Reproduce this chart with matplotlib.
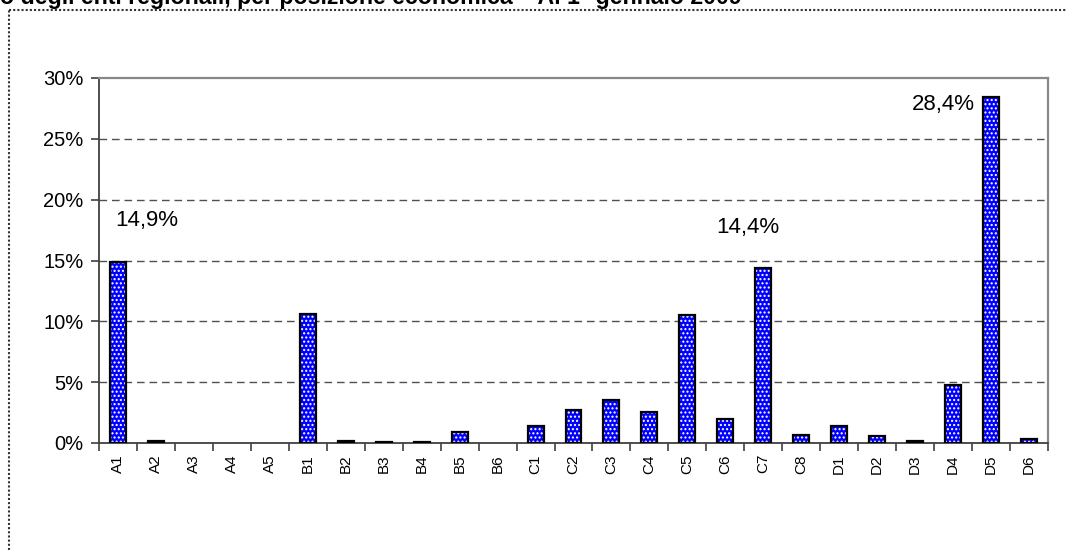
import matplotlib
matplotlib.use("Agg")
import matplotlib.pyplot as plt
from matplotlib.lines import Line2D
from matplotlib.ticker import FixedLocator, FuncFormatter

plt.rcParams['font.family'] = ['Liberation Sans', 'DejaVu Sans']
plt.rcParams['hatch.linewidth'] = 1.0

categories = ["A1", "A2", "A3", "A4", "A5",
              "B1", "B2", "B3", "B4", "B5", "B6",
              "C1", "C2", "C3", "C4", "C5", "C6", "C7", "C8",
              "D1", "D2", "D3", "D4", "D5", "D6"]
values = [14.9, 0.2, 0.0, 0.0, 0.0,
          10.6, 0.2, 0.1, 0.05, 0.9, 0.0,
          1.4, 2.75, 3.5, 2.55, 10.5, 1.95, 14.4, 0.65,
          1.4, 0.6, 0.15, 4.8, 28.4, 0.3]
yticks = [0, 5, 10, 15, 20, 25, 30]
labelled = {0: "14,9%", 17: "14,4%", 23: "28,4%"}
label_pos = {0: (-0.08, 18.3), 17: (15.77, 17.7), 23: (20.91, 27.8)}
title = "o degli enti regionali, per posizione economica \u2013 Al 1\u00b0 gennaio 2009"

W, H = 1066, 550
fig = plt.figure(figsize=(W / 100, H / 100), dpi=100)
ax = fig.add_axes([99 / W, (H - 443) / H, 949 / W, (443 - 78) / H])

x = list(range(len(categories)))
# hatched fill (white dots on blue)
ax.bar(x, values, width=0.42, color="#0000FF", edgecolor="white",
       hatch="....", linewidth=0, zorder=3)
# black outline (only for non-zero bars)
ax.bar(x, values, width=0.42, color="none", edgecolor="black",
       linewidth=[1.6 if v > 0 else 0 for v in values], zorder=4)

ax.set_xlim(-0.5, len(categories) - 0.5)
ax.set_ylim(0, 30)

ax.set_yticks(yticks)
ax.yaxis.set_major_formatter(FuncFormatter(lambda v, p: f"{int(v)}%"))
ax.tick_params(axis='y', direction='out', length=6, width=1.2, color="#404040",
               labelsize=14.5, pad=5)

ax.set_xticks(x)
ax.set_xticklabels(categories, rotation=90, fontsize=11)
ax.tick_params(axis='x', which='major', length=0, pad=8)
ax.xaxis.set_minor_locator(FixedLocator([i - 0.5 for i in range(len(categories) + 1)]))
ax.tick_params(axis='x', which='minor', direction='out', length=6, width=1.2,
               color="#404040")

for v in yticks[1:-1]:
    ax.axhline(v, color="#505050", linewidth=1.0, linestyle=(0, (5.5, 3.5)), zorder=1)

for s in ['left', 'bottom']:
    ax.spines[s].set_color("#404040")
    ax.spines[s].set_linewidth(1.3)
for s in ['top', 'right']:
    ax.spines[s].set_color("#888888")
    ax.spines[s].set_linewidth(1.6)

for i, txt in labelled.items():
    px, py = label_pos[i]
    ax.text(px, py, txt, fontsize=16, ha='left', va='center', zorder=5)

# dotted outer frame
fig.add_artist(Line2D([8.5 / W, 8.5 / W], [0, 1 - 10 / H], transform=fig.transFigure,
                      color="#333333", linewidth=1.5, linestyle=(0, (1, 1))))
fig.add_artist(Line2D([8.5 / W, 1], [1 - 10 / H, 1 - 10 / H], transform=fig.transFigure,
                      color="#333333", linewidth=1.5, linestyle=(0, (1, 1))))

# title, partially cut at the top edge as in the reference
fig.text(0.0, 1 - 4 / H, title, fontsize=16.7, fontweight='bold', ha='left', va='baseline')

fig.savefig("out.png", dpi=100)
